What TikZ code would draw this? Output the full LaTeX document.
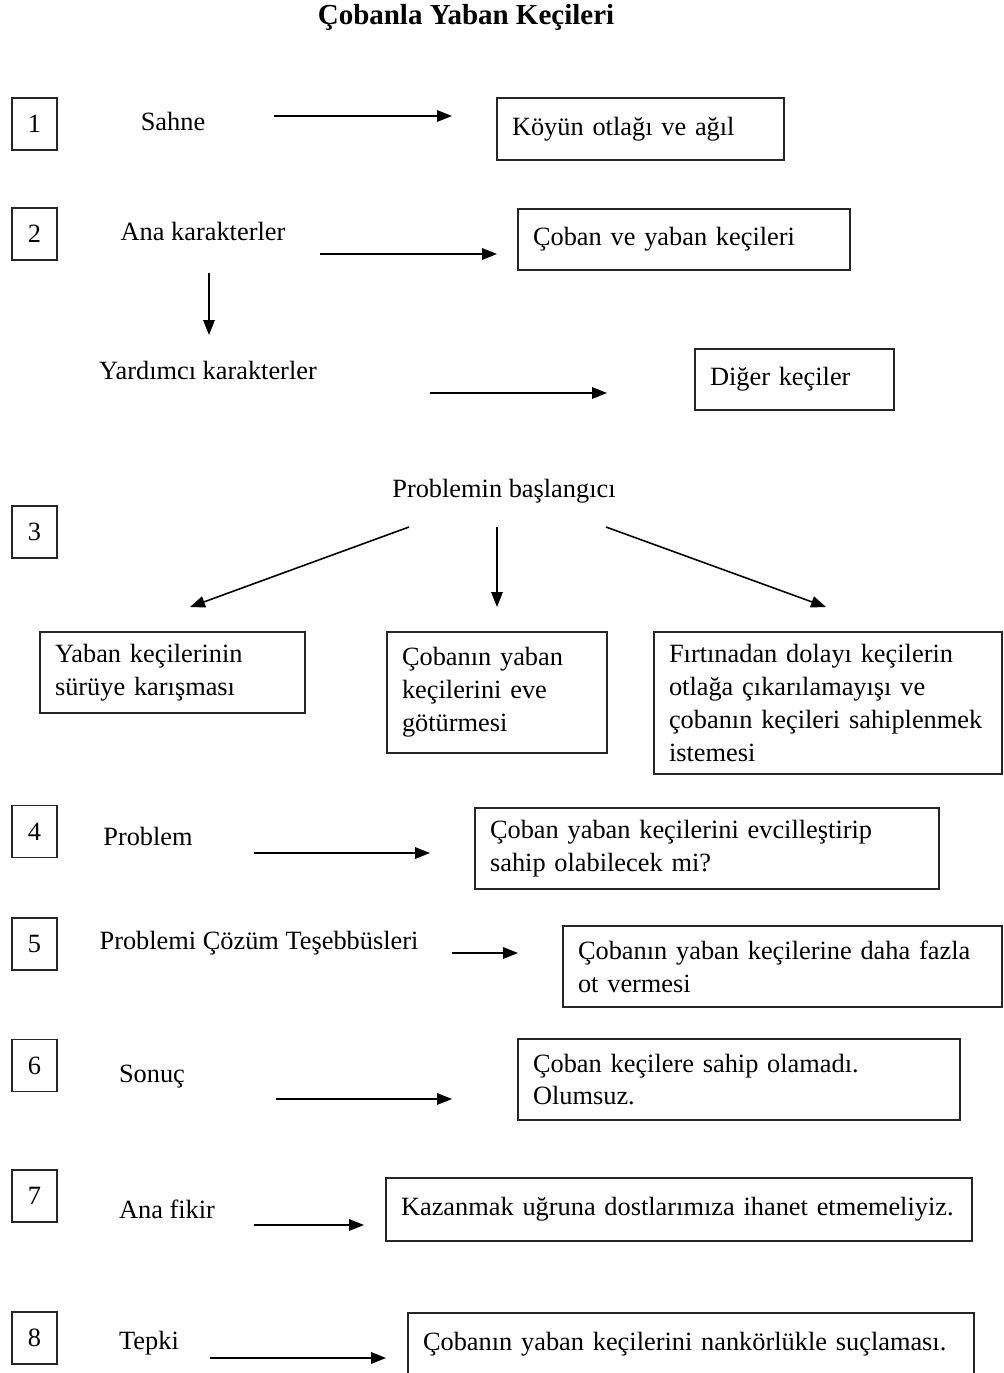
\documentclass[tikz,border=0pt]{standalone}
\usepackage{fontspec}
\setmainfont{Liberation Serif}
\usepackage{tikz}
\usetikzlibrary{arrows.meta, positioning}
\tikzstyle{numbox} = [rectangle, draw=black!85, line width=0.8pt, minimum width=0.9cm, minimum height=1.04cm, inner sep=0pt]
\tikzstyle{answer} = [rectangle, draw=black!85, line width=0.8pt, align=left, inner xsep=0.3cm, inner ysep=0pt]
\tikzstyle{arrow} = [line width=0.9pt, -{Triangle[length=0.3cm, width=0.23cm]}]

\begin{document}
\begin{tikzpicture}[x=0.02cm, y=-0.02cm, every node/.style={font=\fontsize{15}{18.7}\selectfont}]
\clip (0,0) rectangle (1004,1373);
% Title
\node (title) at (466,17) [font=\fontsize{16.5}{20}\selectfont\bfseries] {Çobanla Yaban Keçileri};

% Numbers
\node (n1) [numbox] at (34.5,124) {1};
\node (n2) [numbox] at (34.5,234) {2};
\node (n3) [numbox] at (34.5,532) {3};
\node (n4) [numbox] at (34.5,831.5) {4};
\node (n5) [numbox] at (34.5,944) {5};
\node (n6) [numbox] at (34.5,1065.5) {6};
\node (n7) [numbox] at (34.5,1196) {7};
\node (n8) [numbox] at (34.5,1338) {8};

% Headings
\node (sahne) at (173,121) {Sahne};
\node (akar) at (203,231) {Ana karakterler};
\node (ykar) at (208,370) {Yardımcı karakterler};
\node (bas) at (504,491) {Problemin başlangıcı};
\node (prob) at (148,836) {Problem};
\node (teseb) at (259,943) {Problemi Çözüm Teşebbüsleri};
\node (sonuc) at (152,1077) {Sonuç};
\node (fikir) at (167,1209) {Ana fikir};
\node (tepki) at (149,1343) {Tepki};

% Answers
\node (yer) [answer, text width=5.14cm, minimum height=1.24cm] at (640.5,129) {Köyün otlağı ve ağıl};
\node (ana) [answer, text width=6.04cm, minimum height=1.22cm] at (684,239.5) {Çoban ve yaban keçileri};
\node (diger) [answer, text width=3.38cm, minimum height=1.22cm] at (794.5,379.5) {Diğer keçiler};
\node (bas1) [answer, text width=4.7cm, minimum height=1.62cm] at (172.5,672.5) {Yaban keçilerinin\\sürüye karışması};
\node (bas2) [answer, text width=3.8cm, minimum height=2.42cm] at (497,692.5) {Çobanın yaban\\keçilerini eve\\götürmesi};
\node (bas3) [answer, text width=6.36cm, minimum height=2.84cm] at (828,703) {Fırtınadan dolayı keçilerin\\otlağa çıkarılamayışı ve\\çobanın keçileri sahiplenmek\\istemesi};
\node (probk) [answer, text width=8.68cm, minimum height=1.62cm] at (707,848.5) {Çoban yaban keçilerini evcilleştirip\\sahip olabilecek mi?};
\node (cozum) [answer, text width=8.18cm, minimum height=1.62cm] at (782.5,966.5) {Çobanın yaban keçilerine daha fazla\\ot vermesi};
\node (son) [answer, text width=8.24cm, minimum height=1.62cm] at (739,1079.5) {Çoban keçilere sahip olamadı.\\Olumsuz.};
\node (fikirk) [answer, text width=11.12cm, minimum height=1.26cm] at (679,1209.5) {Kazanmak uğruna dostlarımıza ihanet etmemeliyiz.};
\node (tepk) [answer, text width=10.72cm, minimum height=1.24cm] at (691,1344) {Çobanın yaban keçilerini nankörlükle suçlaması.};

% Arrow ends
\coordinate (s1) at (274,116);   \coordinate (e1) at (452,116);
\coordinate (s2) at (320,254);   \coordinate (e2) at (497,254);
\coordinate (sd) at (209,273);   \coordinate (ed) at (209,335);
\coordinate (sy) at (430,393);   \coordinate (ey) at (607,393);
\coordinate (s3a) at (409,527);  \coordinate (e3a) at (190,607);
\coordinate (s3b) at (497,527);  \coordinate (e3b) at (497,607);
\coordinate (s3c) at (606,527);  \coordinate (e3c) at (826,607);
\coordinate (s4) at (254,853);   \coordinate (e4) at (430,853);
\coordinate (s5) at (452,953);   \coordinate (e5) at (518,953);
\coordinate (s6) at (276,1099);  \coordinate (e6) at (452,1099);
\coordinate (s7) at (254,1225);  \coordinate (e7) at (364,1225);
\coordinate (s8) at (210,1358);  \coordinate (e8) at (386,1358);

% Arrows
\draw [arrow] (s1) -- (e1);
\draw [arrow] (s2) -- (e2);
\draw [arrow] (sd) -- (ed);
\draw [arrow] (sy) -- (ey);
\draw [arrow] (s3a) -- (e3a);
\draw [arrow] (s3b) -- (e3b);
\draw [arrow] (s3c) -- (e3c);
\draw [arrow] (s4) -- (e4);
\draw [arrow] (s5) -- (e5);
\draw [arrow] (s6) -- (e6);
\draw [arrow] (s7) -- (e7);
\draw [arrow] (s8) -- (e8);
\end{tikzpicture}
\end{document}
